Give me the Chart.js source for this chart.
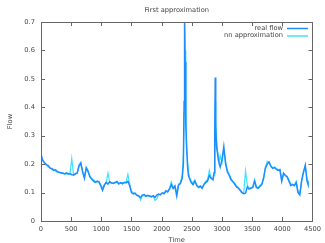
<!DOCTYPE html>
<html>
<head>
<meta charset="utf-8">
<script src="https://cdn.jsdelivr.net/npm/chart.js@4/dist/chart.umd.min.js"></script>
<style>
  html, body { margin: 0; padding: 0; background: #fff; }
</style>
</head>
<body>
<canvas id="flowChart" width="325" height="243"></canvas>
<script>
// time axis (sample positions)
const time = [
  0, 30, 60, 90, 120, 150, 180, 210, 240, 270,
  300, 330, 360, 390, 420, 450, 480, 510, 540, 570,
  600, 630, 660, 690, 720, 750, 780, 810, 840, 870,
  900, 930, 960, 990, 1020, 1050, 1080, 1110, 1140, 1170,
  1200, 1230, 1260, 1290, 1320, 1350, 1380, 1410, 1440, 1470,
  1500, 1530, 1560, 1590, 1620, 1650, 1680, 1710, 1740, 1770,
  1800, 1830, 1860, 1890, 1920, 1950, 1980, 2010, 2040, 2070,
  2100, 2130, 2160, 2190, 2220, 2250, 2280, 2310, 2340, 2360,
  2372, 2380, 2388, 2400, 2415, 2430, 2445, 2460, 2490, 2520,
  2550, 2580, 2610, 2640, 2670, 2700, 2730, 2760, 2790, 2820,
  2850, 2868, 2880, 2888, 2896, 2910, 2925, 2940, 2955, 2970,
  3000, 3030, 3060, 3090, 3120, 3150, 3180, 3210, 3240, 3270,
  3300, 3330, 3360, 3390, 3420, 3450, 3480, 3510, 3540, 3570,
  3600, 3630, 3660, 3690, 3720, 3750, 3780, 3810, 3840, 3870,
  3900, 3930, 3960, 3990, 4020, 4050, 4080, 4110, 4140, 4170,
  4200, 4230, 4260, 4290, 4320, 4350, 4380, 4410, 4425
];

const realFlow = [
  0.235, 0.212, 0.205, 0.198, 0.195, 0.186, 0.185, 0.178, 0.180, 0.174,
  0.172, 0.170, 0.168, 0.166, 0.169, 0.165, 0.167, 0.163, 0.162, 0.166,
  0.168, 0.196, 0.205, 0.172, 0.150, 0.188, 0.176, 0.155, 0.148, 0.140,
  0.136, 0.140, 0.137, 0.124, 0.108, 0.126, 0.136, 0.130, 0.138, 0.134,
  0.132, 0.136, 0.139, 0.130, 0.135, 0.131, 0.136, 0.134, 0.140, 0.124,
  0.100, 0.095, 0.098, 0.090, 0.088, 0.082, 0.091, 0.093, 0.087, 0.090,
  0.087, 0.085, 0.089, 0.083, 0.091, 0.095, 0.092, 0.099, 0.096, 0.106,
  0.102, 0.112, 0.128, 0.114, 0.122, 0.088, 0.126, 0.132, 0.150, 0.200,
  0.420, 0.700, 0.560, 0.340, 0.250, 0.190, 0.160, 0.150, 0.135, 0.128,
  0.140, 0.125, 0.118, 0.122, 0.115, 0.128, 0.135, 0.140, 0.160, 0.150,
  0.145, 0.170, 0.300, 0.505, 0.330, 0.260, 0.240, 0.215, 0.200, 0.190,
  0.215, 0.262, 0.200, 0.172, 0.160, 0.145, 0.138, 0.130, 0.120, 0.116,
  0.108, 0.100, 0.096, 0.098, 0.120, 0.112, 0.115, 0.118, 0.140, 0.118,
  0.115, 0.122, 0.128, 0.150, 0.186, 0.200, 0.208, 0.192, 0.185, 0.188,
  0.182, 0.178, 0.180, 0.140, 0.168, 0.160, 0.155, 0.140, 0.125, 0.128,
  0.124, 0.135, 0.100, 0.092, 0.140, 0.170, 0.196, 0.140, 0.130
];

const nnApprox = [
  0.228, 0.215, 0.200, 0.196, 0.190, 0.188, 0.180, 0.182, 0.176, 0.172,
  0.170, 0.168, 0.170, 0.164, 0.166, 0.168, 0.165, 0.220, 0.160, 0.164,
  0.170, 0.190, 0.200, 0.176, 0.156, 0.182, 0.172, 0.160, 0.150, 0.145,
  0.140, 0.138, 0.140, 0.128, 0.115, 0.128, 0.134, 0.168, 0.136, 0.132,
  0.134, 0.134, 0.136, 0.132, 0.133, 0.135, 0.134, 0.138, 0.165, 0.130,
  0.105, 0.100, 0.094, 0.092, 0.090, 0.074, 0.090, 0.088, 0.090, 0.088,
  0.090, 0.088, 0.086, 0.072, 0.078, 0.094, 0.095, 0.097, 0.100, 0.102,
  0.105, 0.115, 0.138, 0.118, 0.125, 0.100, 0.130, 0.135, 0.160, 0.230,
  0.380, 0.690, 0.600, 0.400, 0.260, 0.210, 0.170, 0.155, 0.140, 0.135,
  0.145, 0.128, 0.120, 0.125, 0.118, 0.130, 0.140, 0.145, 0.178, 0.152,
  0.148, 0.160, 0.250, 0.420, 0.360, 0.290, 0.250, 0.225, 0.210, 0.230,
  0.205, 0.250, 0.210, 0.178, 0.165, 0.150, 0.140, 0.132, 0.124, 0.118,
  0.110, 0.102, 0.098, 0.176, 0.125, 0.115, 0.118, 0.120, 0.145, 0.120,
  0.118, 0.125, 0.132, 0.155, 0.190, 0.210, 0.205, 0.195, 0.188, 0.190,
  0.185, 0.180, 0.182, 0.145, 0.165, 0.162, 0.158, 0.145, 0.130, 0.130,
  0.126, 0.140, 0.105, 0.098, 0.145, 0.175, 0.192, 0.145, 0.132
];

const chartTitle = 'First approximation';
const FONT = '"DejaVu Sans", sans-serif';
const TEXT_COLOR = '#444';
const FRAME_COLOR = '#666';

function toPoints(values) {
  return values.map((v, i) => ({ x: time[i], y: v }));
}

// gnuplot-ish frame: box, inward ticks on all 4 sides, title, key
const gnuFrame = {
  id: 'gnuFrame',
  afterDraw(chart) {
    const ctx = chart.ctx;
    const a = chart.chartArea;
    const xs = chart.scales.x, ys = chart.scales.y;
    ctx.save();
    ctx.strokeStyle = FRAME_COLOR;
    ctx.lineWidth = 1;
    ctx.strokeRect(Math.round(a.left) + 0.5, Math.round(a.top) + 0.5,
      Math.round(a.right - a.left), Math.round(a.bottom - a.top));
    ctx.beginPath();
    xs.ticks.forEach(t => {
      const px = Math.round(xs.getPixelForValue(t.value)) + 0.5;
      ctx.moveTo(px, a.bottom); ctx.lineTo(px, a.bottom - 4);
      ctx.moveTo(px, a.top); ctx.lineTo(px, a.top + 4);
    });
    ys.ticks.forEach(t => {
      const py = Math.round(ys.getPixelForValue(t.value)) + 0.5;
      ctx.moveTo(a.left, py); ctx.lineTo(a.left + 4, py);
      ctx.moveTo(a.right, py); ctx.lineTo(a.right - 4, py);
    });
    ctx.stroke();

    ctx.fillStyle = TEXT_COLOR;
    ctx.font = '6.7px ' + FONT;
    ctx.textAlign = 'center';
    ctx.textBaseline = 'middle';
    ctx.fillText(chartTitle, (a.left + a.right) / 2, 10);

    // key, top right
    ctx.textAlign = 'right';
    chart.data.datasets.forEach((ds, i) => {
      const y = 28 + i * 7.5;
      ctx.fillStyle = TEXT_COLOR;
      ctx.fillText(ds.label, 283, y);
      ctx.strokeStyle = ds.borderColor;
      ctx.lineWidth = 1.5;
      ctx.beginPath();
      ctx.moveTo(287, y + 0.5); ctx.lineTo(308, y + 0.5);
      ctx.stroke();
    });
    ctx.restore();
  }
};

new Chart(document.getElementById('flowChart').getContext('2d'), {
  type: 'line',
  data: {
    datasets: [
      {
        label: 'real flow',
        data: toPoints(realFlow),
        borderColor: '#1e8cff',
        borderWidth: 1.5,
        pointRadius: 0,
        tension: 0
      },
      {
        label: 'nn approximation',
        data: toPoints(nnApprox),
        borderColor: '#40e0ff',
        borderWidth: 1.2,
        pointRadius: 0,
        tension: 0
      }
    ]
  },
  options: {
    responsive: false,
    animation: false,
    layout: { padding: { top: 22, right: 9, left: 0, bottom: 0 } },
    plugins: {
      legend: { display: false },
      title: { display: false },
      tooltip: { enabled: false }
    },
    scales: {
      x: {
        type: 'linear',
        min: 0,
        max: 4500,
        grid: { display: false, drawTicks: false },
        border: { display: false },
        ticks: {
          stepSize: 500, padding: 4, color: TEXT_COLOR, font: { family: FONT, size: 6.7 }, maxRotation: 0,
          callback: v => String(v)
        },
        title: { display: true, text: 'Time', color: TEXT_COLOR, font: { family: FONT, size: 6.7 }, padding: { top: 0, bottom: -1 } },
        afterFit: s => { s.height = 22; }
      },
      y: {
        min: 0,
        max: 0.7,
        grid: { display: false, drawTicks: false },
        border: { display: false },
        ticks: {
          stepSize: 0.1, padding: 6, color: TEXT_COLOR, font: { family: FONT, size: 6.7 },
          callback: v => String(Math.round(v * 10) / 10)
        },
        title: { display: true, text: 'Flow', color: TEXT_COLOR, font: { family: FONT, size: 6.7 }, padding: { top: 6, bottom: 0 } },
        afterFit: s => { s.width = 41; }
      }
    }
  },
  plugins: [gnuFrame]
});
</script>
</body>
</html>
